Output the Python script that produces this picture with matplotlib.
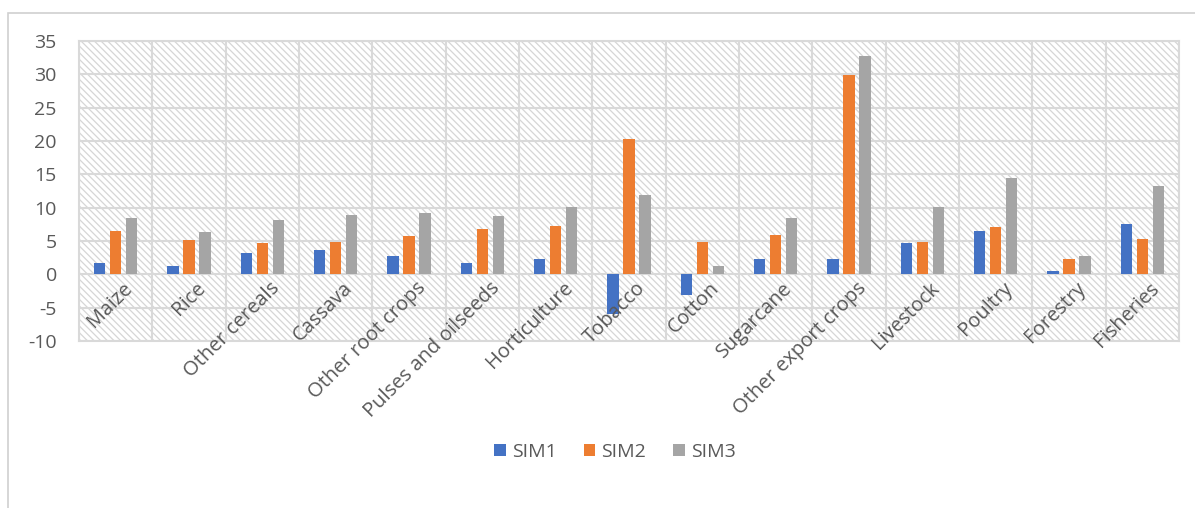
import matplotlib.pyplot as plt
import matplotlib.patches as mpatches
import numpy as np

# 部門ごとのシミュレーション結果 (%)
sectors = ['Maize', 'Rice', 'Other cereals', 'Cassava', 'Other root crops',
           'Pulses and oilseeds', 'Horticulture', 'Tobacco', 'Cotton', 'Sugarcane',
           'Other export crops', 'Livestock', 'Poultry', 'Forestry', 'Fisheries']
sim1 = [1.75, 1.25, 3.2, 3.7, 2.7, 1.75, 2.25, -5.9, -3.05, 2.25, 2.25, 4.65, 6.55, 0.55, 7.5]
sim2 = [6.55, 5.1, 4.65, 4.9, 5.8, 6.8, 7.3, 20.25, 4.9, 5.85, 29.9, 4.9, 7.05, 2.25, 5.35]
sim3 = [8.45, 6.3, 8.2, 8.95, 9.2, 8.7, 10.15, 11.85, 1.25, 8.45, 32.75, 10.15, 14.5, 2.7, 13.3]
series_names = ['SIM1', 'SIM2', 'SIM3']
y_ticks = list(range(-10, 36, 5))

colors = ['#4472C4', '#ED7D31', '#A5A5A5']
grid_col = '#d9d9d9'
text_col = '#595959'

plt.rcParams['font.family'] = ['Open Sans', 'DejaVu Sans']
plt.rcParams['hatch.linewidth'] = 0.9
plt.rcParams['hatch.color'] = '#d6d6d6'

fig = plt.figure(figsize=(11.95, 5.08), dpi=100)
ax = fig.add_axes([79 / 1195, 1 - 341 / 508, 1100 / 1195, 300 / 508])

# 外枠(上と左だけ見える)
frame = mpatches.Rectangle((8 / 1195, -0.1), 1.2, 1.1 - 13 / 508,
                           transform=fig.transFigure, fill=False,
                           edgecolor='#d0d0d0', linewidth=1.2, zorder=-5)
fig.patches.append(frame)

# 斜線の背景
bg = mpatches.Rectangle((0, 0), 1, 1, transform=ax.transAxes, facecolor='white',
                        edgecolor='#d6d6d6', hatch='\\' * 5, linewidth=0, zorder=0)
ax.add_patch(bg)

x = np.arange(len(sectors))
w = 0.154
step = 0.22
for k, (vals, name) in enumerate(zip([sim1, sim2, sim3], series_names)):
    ax.bar(x + (k - 1) * step, vals, width=w, color=colors[k], label=name, zorder=3)

ax.set_xlim(-0.5, len(sectors) - 0.5)
ax.set_ylim(-10, 35)
ax.set_yticks(y_ticks)
ax.set_yticklabels([str(v) for v in y_ticks], fontsize=14, color=text_col)
ax.tick_params(axis='y', length=0, pad=16)
ax.set_xticks(np.arange(len(sectors) + 1) - 0.5)
ax.set_xticklabels([])
ax.tick_params(axis='x', length=0)
ax.grid(True, color=grid_col, linewidth=1.5, zorder=1)
ax.set_axisbelow(True)
for sp in ax.spines.values():
    sp.set_color(grid_col)
    sp.set_linewidth(1.5)

# カテゴリ名は0の軸の下に斜めに置く
for i, name in enumerate(sectors):
    ax.annotate(name, xy=(i, 0), xytext=(7, -4), textcoords='offset pixels',
                rotation=45, ha='right', va='top', rotation_mode='anchor',
                fontsize=14.5, color=text_col, zorder=4)

leg = fig.legend(loc='center', bbox_to_anchor=(615 / 1195, 1 - 452 / 508), ncol=3,
                 frameon=False, fontsize=14, handlelength=0.6, handleheight=0.6,
                 handletextpad=0.3, columnspacing=1.4)
for t in leg.get_texts():
    t.set_color(text_col)

fig.savefig('out.png', dpi=100)
